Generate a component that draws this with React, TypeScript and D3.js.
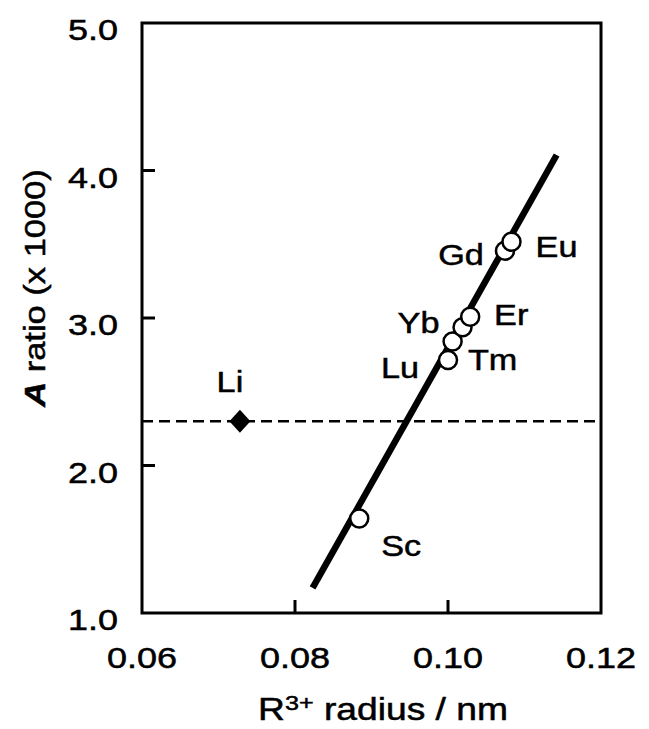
import React from "react";
import * as d3 from "d3";

const W = 649;
const H = 729;

// Lanthanide / Sc points (R3+ radius nm, A ratio x1000)
const elements = ["Sc", "Lu", "Tm", "Yb", "Er", "Gd", "Eu"];
const radii = [0.0884, 0.1000, 0.1006, 0.1019, 0.1029, 0.10745, 0.1083];
const ratios = [1.64, 2.715, 2.84, 2.937, 3.009, 3.456, 3.517];

// Li reference point and dashed level
const liLabel = "Li";
const liRadius = 0.0728;
const liRatio = 2.3;

// fitted line end points
const fitX = [0.0823, 0.1142];
const fitY = [1.17, 4.105];

const xTicks = [0.06, 0.08, 0.1, 0.12];
const yTicks = [1.0, 2.0, 3.0, 4.0, 5.0];

// label offsets (px) relative to each marker
const labelOffsets: Record<string, [number, number]> = {
  Sc: [42, 27],
  Lu: [-48, 8],
  Tm: [40, 18],
  Yb: [-44, -4],
  Er: [41, -2],
  Gd: [-44, 4],
  Eu: [45, 5],
  Li: [-10, -39],
};

const FONT = "'Liberation Sans', Arial, Helvetica, sans-serif";

export default function App() {
  const x = d3.scaleLinear().domain([0.06, 0.12]).range([142, 601]);
  const y = d3.scaleLinear().domain([1, 5]).range([613, 23]);
  const [x0, x1] = x.range();
  const [y0, y1] = y.range();

  const line = d3
    .line<[number, number]>()
    .x((d) => x(d[0]))
    .y((d) => y(d[1]));
  const fitPts: [number, number][] = fitX.map((v, i) => [v, fitY[i]]);

  const T = (
    px: number,
    py: number,
    content: React.ReactNode,
    anchor: "start" | "middle" | "end",
    size = 30,
    key?: string,
    sx = 1.18
  ) => (
    <text
      key={key}
      transform={`translate(${px},${py}) scale(${sx},1)`}
      textAnchor={anchor}
      fontFamily={FONT}
      fontSize={size}
      fill="#000"
      stroke="#000"
      strokeWidth={0.5}
    >
      {content}
    </text>
  );

  const lx = x(liRadius);
  const ly = y(liRatio);
  const dw = 10.5;
  const dh = 11.5;
  const diamond = `M${lx},${ly - dh}L${lx + dw},${ly}L${lx},${ly + dh}L${lx - dw},${ly}Z`;

  return (
    <svg
      width={W}
      height={H}
      style={{ position: "absolute", left: 0, top: 0, background: "#fff" }}
    >
      <rect x={0} y={0} width={W} height={H} fill="#fff" />
      {/* dashed Li level */}
      <line
        x1={x0}
        x2={x1}
        y1={ly}
        y2={ly}
        stroke="#000"
        strokeWidth={2.5}
        strokeDasharray="11,6"
      />
      {/* fit line */}
      <path d={line(fitPts) || ""} stroke="#000" strokeWidth={6.5} fill="none" />
      {/* frame */}
      <rect
        x={x0}
        y={y1}
        width={x1 - x0}
        height={y0 - y1}
        fill="none"
        stroke="#000"
        strokeWidth={3}
      />
      {/* ticks */}
      {yTicks
        .filter((t) => t > 1 && t < 5)
        .map((t) => (
          <line key={"yt" + t} x1={x0} x2={x0 + 13} y1={y(t)} y2={y(t)} stroke="#000" strokeWidth={3} />
        ))}
      {xTicks
        .filter((t) => t > 0.06 && t < 0.12)
        .map((t) => (
          <line key={"xt" + t} x1={x(t)} x2={x(t)} y1={y0} y2={y0 - 13} stroke="#000" strokeWidth={3} />
        ))}
      {/* tick labels */}
      {yTicks.map((t) => T(118, y(t) + 17, t.toFixed(1), "end", 30, "yl" + t, 1.2))}
      {xTicks.map((t) => T(x(t), 668, t.toFixed(2), "middle", 30, "xl" + t, 1.2))}
      {/* markers */}
      {elements.map((e, i) => (
        <circle
          key={"c" + e}
          cx={x(radii[i])}
          cy={y(ratios[i])}
          r={9}
          fill="#fff"
          stroke="#000"
          strokeWidth={2.5}
        />
      ))}
      <path d={diamond} fill="#000" />
      {/* point labels */}
      {elements.map((e, i) =>
        T(
          x(radii[i]) + labelOffsets[e][0],
          y(ratios[i]) + labelOffsets[e][1] + 10,
          e,
          "middle",
          29,
          "l" + e
        )
      )}
      {T(lx + labelOffsets.Li[0], ly + labelOffsets.Li[1] + 10, liLabel, "middle", 29, "li")}
      {/* axis titles */}
      {T(
        383,
        720,
        <>
          R<tspan fontSize={21} dy={-10}>3+</tspan>
          <tspan dy={10}> radius / nm</tspan>
        </>,
        "middle",
        31,
        "xtitle",
        1.2
      )}
      <text
        transform={`translate(45,288) rotate(-90) scale(1.15,1)`}
        textAnchor="middle"
        fontFamily={FONT}
        fontSize={30}
        fill="#000"
        stroke="#000"
        strokeWidth={0.5}
      >
        <tspan fontWeight="bold" fontStyle="italic">A</tspan> ratio (x 1000)
      </text>
    </svg>
  );
}
